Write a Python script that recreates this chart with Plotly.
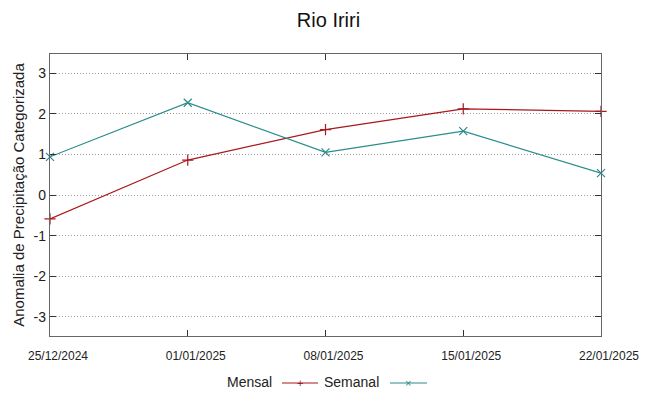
import plotly.graph_objects as go

dates = ["2024-12-25", "2025-01-01", "2025-01-08", "2025-01-15", "2025-01-22"]
tick_labels = ["25/12/2024", "01/01/2025", "08/01/2025", "15/01/2025", "22/01/2025"]
mensal = [-0.59, 0.86, 1.61, 2.12, 2.06]
semanal = [0.94, 2.27, 1.05, 1.57, 0.54]
y_ticks = [-3, -2, -1, 0, 1, 2, 3]
y_tick_labels = ["-3", "-2", "-1", "0", "1", "2", "3"]

RED = "#a8181c"
TEAL = "#2a8c8c"
NARROW = "Liberation Sans Narrow, Liberation Sans, sans-serif"
SANS = "Liberation Sans, Arial, sans-serif"

# page has an 8px body margin; figure is sized/offset to compensate
OFF = 8
W, H = 649 - OFF, 396 - OFF
L, T = 50 - OFF, 54 - OFF
R = W - (601 - OFF)
B = H - (336 - OFF)

fig = go.Figure()
fig.add_trace(go.Scatter(x=dates, y=mensal, mode="lines+markers", name="Mensal",
                         line=dict(color=RED, width=1.2),
                         marker=dict(symbol="cross-thin", size=8, line=dict(color=RED, width=1.2)),
                         cliponaxis=False))
fig.add_trace(go.Scatter(x=dates, y=semanal, mode="lines+markers", name="Semanal",
                         line=dict(color=TEAL, width=1.2),
                         marker=dict(symbol="x-thin", size=8, line=dict(color=TEAL, width=1.2)),
                         cliponaxis=False))

fig.update_layout(
    width=W, height=H,
    margin=dict(l=L, r=R, t=T, b=B, autoexpand=False),
    paper_bgcolor="white", plot_bgcolor="white",
    showlegend=False,
    title=dict(text="Rio Iriri", x=0.5, xanchor="center", y=1 - (20 - OFF) / H, yanchor="middle",
               font=dict(family=SANS, size=20, color="#111")),
    font=dict(family=SANS, color="#222"),
)
fig.update_xaxes(
    type="date", range=[dates[0], dates[-1]],
    tickvals=dates, ticktext=tick_labels,
    tickfont=dict(family=NARROW, size=12, color="#222"),
    ticks="inside", ticklen=6, tickcolor="#333",
    showline=True, linecolor="#666", linewidth=1.3, mirror="allticks",
    showgrid=False, zeroline=False, ticklabelstandoff=8, ticklabelshift=8,
    automargin=False,
)
fig.update_yaxes(
    range=[-3.47, 3.47], tickvals=y_ticks, ticktext=y_tick_labels,
    tickfont=dict(family=SANS, size=14, color="#222"),
    ticks="inside", ticklen=6, tickcolor="#333",
    showline=True, linecolor="#666", linewidth=1.3, mirror="allticks",
    showgrid=True, gridcolor="#9a9a9a", griddash="1px,2px", gridwidth=1,
    zeroline=False, automargin=False,
    title=dict(text="Anomalia de Precipitação Categorizada", font=dict(family=SANS, size=15, color="#222"),
               standoff=5),
)

def px_x(p):
    return (p - OFF - L) / (W - L - R)
def px_y(p):
    return (H - B - (p - OFF)) / (H - T - B)

fig.add_annotation(x=px_x(274), y=px_y(382), xref="paper", yref="paper", text="Mensal",
                   showarrow=False, xanchor="right", yanchor="middle",
                   font=dict(family=NARROW, size=14, color="#222"))
fig.add_shape(type="line", xref="paper", yref="paper", x0=px_x(282), x1=px_x(318),
              y0=px_y(383), y1=px_y(383), line=dict(color=RED, width=1.2))
fig.add_annotation(x=px_x(300), y=px_y(383), xref="paper", yref="paper", text="+",
                   showarrow=False, xanchor="center", yanchor="middle",
                   font=dict(family=SANS, size=11, color=RED))
fig.add_annotation(x=px_x(381), y=px_y(382), xref="paper", yref="paper", text="Semanal",
                   showarrow=False, xanchor="right", yanchor="middle",
                   font=dict(family=NARROW, size=14, color="#222"))
fig.add_shape(type="line", xref="paper", yref="paper", x0=px_x(390), x1=px_x(427),
              y0=px_y(383), y1=px_y(383), line=dict(color=TEAL, width=1.2))
fig.add_annotation(x=px_x(408), y=px_y(383), xref="paper", yref="paper", text="×",
                   showarrow=False, xanchor="center", yanchor="middle",
                   font=dict(family=SANS, size=11, color=TEAL))

fig.write_html("out.html")
